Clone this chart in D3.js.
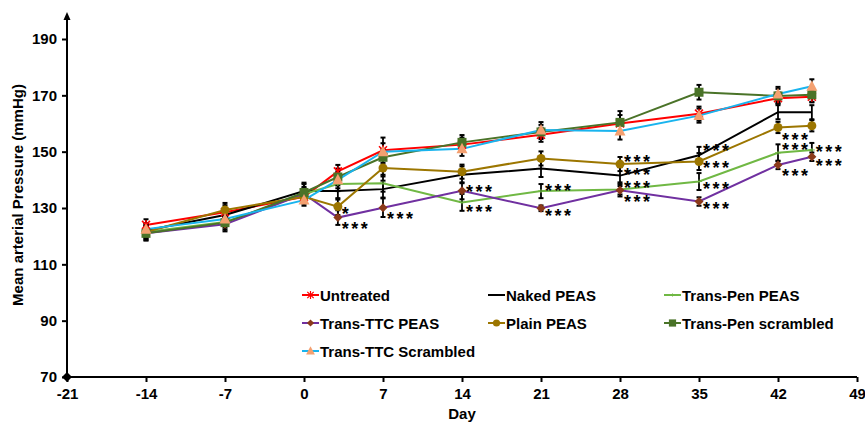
<!DOCTYPE html>
<html>
<head>
<meta charset="utf-8">
<script src="https://cdn.jsdelivr.net/npm/d3@7"></script>
<style>
  body { margin: 0; background: #fff; }
  text { font-family: "Liberation Sans", Arial, sans-serif; font-weight: bold; }
</style>
</head>
<body>
<script>
// days of measurement
const days = [-14, -7, 0, 3, 7, 14, 21, 28, 35, 42, 45];

// mean arterial pressure per group (mmHg)
const untreated         = [124, 128.5, 134, 143, 150.5, 152.5, 156, 160, 163.5, 169, 169.5];
const nakedPeas         = [122, 127.5, 136, 136, 136.7, 141.8, 144, 141.5, 148.7, 164, 164];
const transPenPeas      = [121.5, 125, 135, 138.5, 138.8, 132, 136, 136.6, 139.4, 149.6, 150.6];
const transTtcPeas      = [121, 124.2, 135, 126.6, 130.1, 136.1, 129.9, 136.3, 132.3, 145.3, 148.2];
const plainPeas         = [121.5, 129.3, 134, 130.5, 144.2, 142.9, 147.6, 145.6, 146.5, 158.6, 159.2];
const transPenScrambled = [121, 124.8, 135.5, 141, 148, 153.3, 157, 160.4, 171.1, 169.8, 170.2];
const transTtcScrambled = [122.5, 126.1, 132.8, 140, 150, 151, 157.7, 157.3, 162.8, 170.5, 173.2];

// error bars (+/-)
const errUntreated         = [2, 2.5, 2, 2.3, 4.5, 2.5, 2.5, 3, 2.5, 2, 2];
const errNakedPeas         = [2.5, 2.5, 3, 3, 3, 3, 3, 3, 3, 2.5, 2.5];
const errTransPenPeas      = [2, 2, 2, 2.5, 3, 3, 2.5, 2.5, 3, 3, 2.5];
const errTransTtcPeas      = [2.5, 2.5, 2.5, 2.6, 3.3, 3, 1, 1.5, 1.5, 1.5, 1.5];
const errPlainPeas         = [2.5, 2.5, 2.5, 3, 3, 2.5, 2.5, 2.5, 3, 2, 2];
const errTransPenScrambled = [2.5, 2.5, 3, 3, 3, 2.6, 2.5, 4, 2.6, 2.5, 2.5];
const errTransTtcScrambled = [2, 2.5, 2, 3, 3, 2.5, 2.8, 3, 2.5, 2.5, 2.5];

const xTicks = [-21, -14, -7, 0, 7, 14, 21, 28, 35, 42, 49];
const yTicks = [70, 90, 110, 130, 150, 170, 190];

// significance marks: day, value anchor, text
const marks = [
  {day: 3, value: 129.3, text: "*"},
  {day: 3, value: 124.0, text: "***"},
  {day: 7, value: 127.5, text: "***"},
  {day: 14, value: 137.1, text: "***"},
  {day: 14, value: 130.0, text: "***"},
  {day: 21, value: 137.5, text: "***"},
  {day: 21, value: 128.6, text: "***"},
  {day: 28, value: 147.8, text: "***"},
  {day: 28, value: 143.1, text: "***"},
  {day: 28, value: 138.5, text: "***"},
  {day: 28, value: 133.6, text: "***"},
  {day: 35, value: 151.7, text: "***"},
  {day: 35, value: 145.6, text: "***"},
  {day: 35, value: 138.2, text: "***"},
  {day: 35, value: 131.1, text: "***"},
  {day: 42, value: 155.6, text: "***"},
  {day: 42, value: 152.0, text: "***"},
  {day: 42, value: 142.8, text: "***"},
  {day: 45, value: 151.3, text: "***"},
  {day: 45, value: 146.3, text: "***"}
];

const series = [
  {name: "Untreated", values: untreated, err: errUntreated, line: "#ff0000", fill: "#ff0000", marker: "star"},
  {name: "Naked PEAS", values: nakedPeas, err: errNakedPeas, line: "#000000", fill: "#000000", marker: "none"},
  {name: "Trans-Pen PEAS", values: transPenPeas, err: errTransPenPeas, line: "#70b844", fill: "#70b844", marker: "dash"},
  {name: "Trans-TTC PEAS", values: transTtcPeas, err: errTransTtcPeas, line: "#7030a0", fill: "#8b3a1a", marker: "diamond"},
  {name: "Plain PEAS", values: plainPeas, err: errPlainPeas, line: "#9c7600", fill: "#9c7600", marker: "circle"},
  {name: "Trans-Pen scrambled", values: transPenScrambled, err: errTransPenScrambled, line: "#4a7328", fill: "#4a7328", marker: "square"},
  {name: "Trans-TTC Scrambled", values: transTtcScrambled, err: errTransTtcScrambled, line: "#19b4ee", fill: "#f4a070", marker: "triangle"}
];

const width = 865, height = 422;

var svg = d3.select("body").append("svg")
    .attr("width", width)
    .attr("height", height);

var x = d3.scaleLinear().domain([-21, 49]).range([67, 857]);
var y = d3.scaleLinear().domain([70, 190]).range([377, 39]);

// axes (plain hyphen for negatives, like the original)
var xAxis = svg.append("g")
    .attr("transform", "translate(0," + y(70) + ")")
    .call(d3.axisBottom(x).tickValues(xTicks).tickFormat(function(d) { return String(d); })
      .tickSize(5).tickSizeOuter(0).tickPadding(6));
var yAxis = svg.append("g")
    .attr("transform", "translate(" + x(-21) + ",0)")
    .call(d3.axisLeft(y).tickValues(yTicks).tickFormat(function(d) { return String(d); })
      .tickSize(5).tickSizeOuter(0).tickPadding(5));

[xAxis, yAxis].forEach(function(g) {
  g.select(".domain").remove();
  g.selectAll("line").attr("stroke", "#000").attr("stroke-width", 2);
  g.selectAll("text").attr("fill", "#000").style("font-size", "15px");
});

svg.append("line")
    .attr("x1", x(-21)).attr("x2", x(49))
    .attr("y1", y(70)).attr("y2", y(70))
    .attr("stroke", "#000").attr("stroke-width", 2);
svg.append("line")
    .attr("x1", x(-21)).attr("x2", x(-21))
    .attr("y1", y(70)).attr("y2", 17)
    .attr("stroke", "#000").attr("stroke-width", 2);
// arrow head on y axis
svg.append("path")
    .attr("d", "M" + (x(-21) - 3.5) + ",20L" + x(-21) + ",12L" + (x(-21) + 3.5) + ",20Z")
    .attr("fill", "#000");
// diamond at origin
svg.append("path")
    .attr("transform", "translate(" + x(-21) + "," + y(70) + ")")
    .attr("d", "M0,-5L5,0L0,5L-5,0Z")
    .attr("fill", "#000");

svg.append("text")
    .attr("x", (x(-21) + x(49)) / 2)
    .attr("y", 419)
    .attr("text-anchor", "middle")
    .style("font-size", "15px")
    .text("Day");
svg.append("text")
    .attr("transform", "translate(23," + 195 + ") rotate(-90)")
    .attr("text-anchor", "middle")
    .style("font-size", "15px")
    .text("Mean arterial Pressure (mmHg)");

// marker drawing
function drawMarker(g, type, color) {
  if (type === "circle") {
    g.append("circle").attr("r", 4.5).attr("fill", color);
  } else if (type === "square") {
    g.append("rect").attr("x", -4.5).attr("y", -4.5).attr("width", 9).attr("height", 9).attr("fill", color);
  } else if (type === "diamond") {
    g.append("path").attr("d", "M0,-4.5L4.5,0L0,4.5L-4.5,0Z").attr("fill", color);
  } else if (type === "triangle") {
    g.append("path").attr("d", "M0,-6L5.5,4.5L-5.5,4.5Z").attr("fill", color);
  } else if (type === "star") {
    g.append("path").attr("d", "M-4,-4L4,4M-4,4L4,-4M0,-5L0,5")
      .attr("stroke", color).attr("stroke-width", 1.5).attr("fill", "none");
  } else if (type === "dash") {
    g.append("path").attr("d", "M-3,0L3,0M0,-2L0,2")
      .attr("stroke", color).attr("stroke-width", 1).attr("fill", "none");
  }
}

var line = d3.line()
    .x(function(d) { return x(d.day); })
    .y(function(d) { return y(d.value); });

var rows = series.map(function(s) {
  return days.map(function(d, i) { return {day: d, value: s.values[i], err: s.err[i]}; });
});

// lines
series.forEach(function(s, k) {
  svg.append("path")
      .datum(rows[k])
      .attr("d", line)
      .attr("fill", "none")
      .attr("stroke", s.line)
      .attr("stroke-width", 2);
});

// error bars
series.forEach(function(s, k) {
  var eb = svg.append("g").selectAll("g")
      .data(rows[k])
      .enter().append("g");
  eb.append("line")
      .attr("x1", function(d) { return x(d.day); })
      .attr("x2", function(d) { return x(d.day); })
      .attr("y1", function(d) { return y(d.value - d.err); })
      .attr("y2", function(d) { return y(d.value + d.err); })
      .attr("stroke", "#000").attr("stroke-width", 1.8);
  [-1, 1].forEach(function(sign) {
    eb.append("line")
        .attr("x1", function(d) { return x(d.day) - 2.5; })
        .attr("x2", function(d) { return x(d.day) + 2.5; })
        .attr("y1", function(d) { return y(d.value + sign * d.err); })
        .attr("y2", function(d) { return y(d.value + sign * d.err); })
        .attr("stroke", "#000").attr("stroke-width", 2);
  });
});

// markers
series.forEach(function(s, k) {
  rows[k].forEach(function(d) {
    var g = svg.append("g").attr("transform", "translate(" + x(d.day) + "," + y(d.value) + ")");
    drawMarker(g, s.marker, s.fill);
  });
});

// significance marks
svg.append("g").selectAll("text")
    .data(marks)
    .enter().append("text")
      .attr("x", function(d) { return x(d.day) + 4; })
      .attr("y", function(d) { return y(d.value) + 10; })
      .style("font-size", "18px")
      .style("letter-spacing", "2.5px")
      .text(function(d) { return d.text; });

// legend
var legCols = [302, 488, 664];
var legRows = [295, 323, 351];
series.forEach(function(s, k) {
  var lx = legCols[k % 3], ly = legRows[Math.floor(k / 3)];
  var g = svg.append("g").attr("transform", "translate(" + lx + "," + ly + ")");
  g.append("line").attr("x1", 0).attr("x2", 17).attr("y1", 0).attr("y2", 0)
      .attr("stroke", s.line).attr("stroke-width", 2);
  var m = g.append("g").attr("transform", "translate(8.5,0) scale(0.8)");
  drawMarker(m, s.marker, s.fill);
  g.append("text")
      .attr("x", 18)
      .attr("y", 5.5)
      .style("font-size", "15px")
      .text(s.name);
});
</script>
</body>
</html>
